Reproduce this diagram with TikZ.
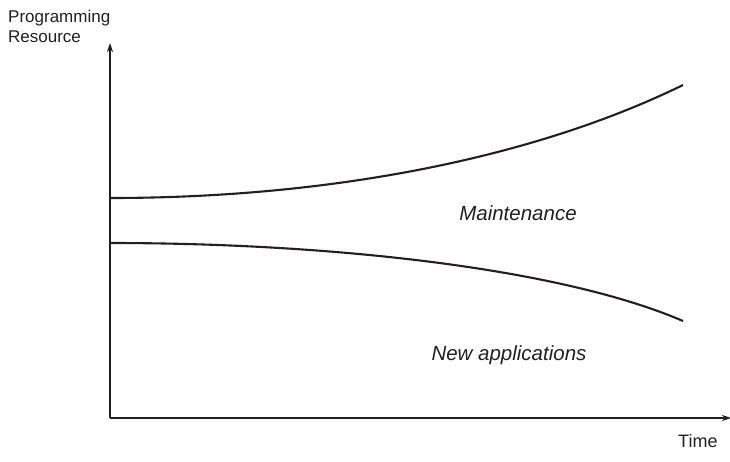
\documentclass[tikz,border=0pt]{standalone}
\usepackage{fontspec}
\setmainfont{Liberation Sans}
\usetikzlibrary{arrows.meta}
\definecolor{ink}{HTML}{231F20}
\begin{document}
\begin{tikzpicture}[x=1pt,y=-1pt,
  axis/.style={line width=1.1pt,draw=ink,-{Stealth[length=9pt,width=6pt]}},
  curve/.style={line width=2.1pt,draw=ink},
  lbl/.style={font=\fontsize{17}{20}\selectfont,text=ink,inner sep=0pt},
  region/.style={lbl,font=\fontsize{20.5}{24}\selectfont\itshape}]
\useasboundingbox (0,0) rectangle (730,461);
% axes
\coordinate (o) at (110,418);
\coordinate (ytop) at (110,43);
\coordinate (xend) at (731,418);
\draw[axis] (o) -- (ytop);
\draw[axis] (o) -- (xend);
% the two curves
\coordinate (u0) at (110,198);
\coordinate (u1) at (683,85);
\coordinate (l0) at (110,243);
\coordinate (l1) at (683,321);
\draw[curve] (u0) .. controls (340,198) and (540,155) .. (u1);
\draw[curve] (l0) .. controls (330,243) and (560,268) .. (l1);
% labels
\node[lbl,anchor=west,align=left] (ylab) at (8,26) {Programming\\Resource};
\node[lbl,anchor=west,font=\fontsize{18}{21}\selectfont] (xlab) at (678,441) {Time};
\node[region] (maint) at (518,213) {Maintenance};
\node[region] (newapp) at (509,355) {New applications};
\end{tikzpicture}
\end{document}
